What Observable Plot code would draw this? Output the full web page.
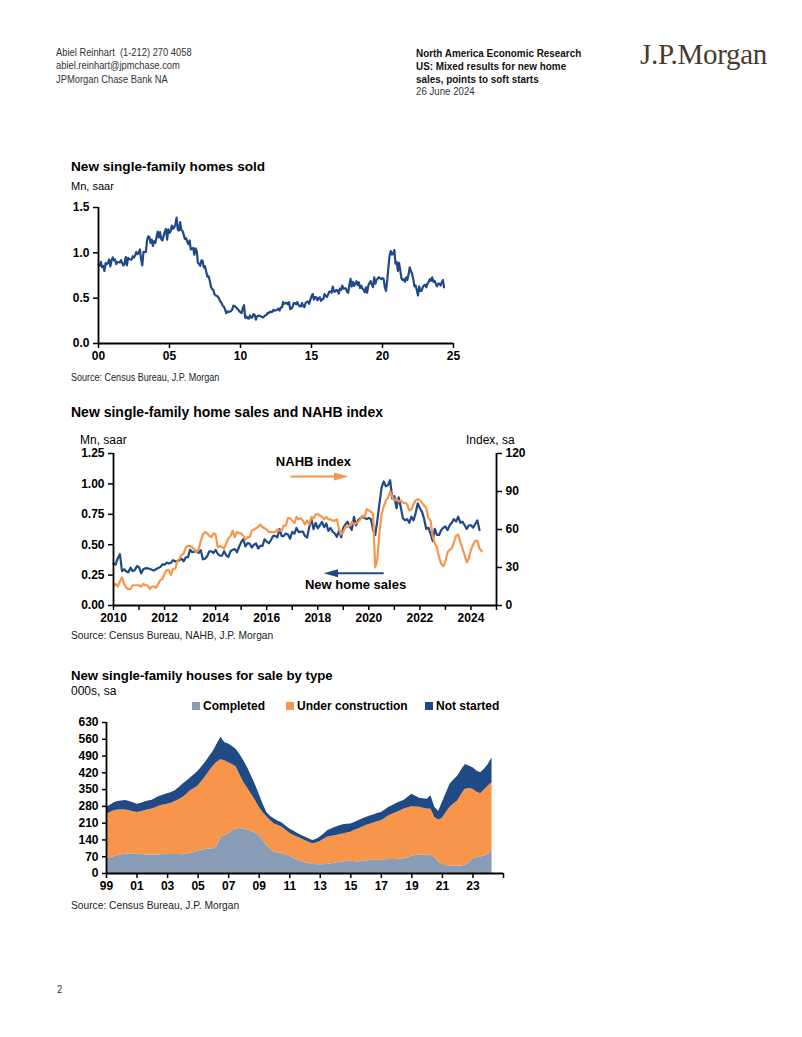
<!DOCTYPE html>
<html><head><meta charset="utf-8">
<script src="https://cdn.jsdelivr.net/npm/d3@7"></script>
<script src="https://cdn.jsdelivr.net/npm/@observablehq/plot@0.6"></script>
<style>
body{margin:0;background:#fff;}
#page{position:relative;width:802px;height:1037px;overflow:hidden;font-family:"Liberation Sans",Arial,sans-serif;color:#000;background:#fff;}
.t{position:absolute;white-space:nowrap;line-height:1;transform-origin:0 0;}
.hdr{font-size:11px;color:#333;transform:scaleX(0.85);}
.hb{font-weight:bold;color:#111;transform:scaleX(0.9);}
.title{font-weight:bold;font-size:14px;}
.unit{font-size:12px;}
.src{font-size:11px;color:#222;transform:scaleX(0.93);}
.chart{position:absolute;}
.logo{font-family:"Liberation Serif","DejaVu Serif",serif;font-size:29px;color:#4a3b2c;letter-spacing:-0.3px;}
.leg{position:absolute;font-size:12px;font-weight:bold;line-height:1;white-space:nowrap;}
.sw{display:inline-block;width:8px;height:8px;margin-right:3px;vertical-align:0px;}
</style></head><body>
<div id="page">
  <div class="t hdr" style="left:56px;top:47px;">Abiel Reinhart&nbsp; (1-212) 270 4058</div>
  <div class="t hdr" style="left:56px;top:60px;">abiel.reinhart@jpmchase.com</div>
  <div class="t hdr" style="left:56px;top:74px;">JPMorgan Chase Bank NA</div>
  <div class="t hdr hb" style="left:416px;top:48px;">North America Economic Research</div>
  <div class="t hdr hb" style="left:416px;top:61px;">US: Mixed results for new home</div>
  <div class="t hdr hb" style="left:416px;top:74px;">sales, points to soft starts</div>
  <div class="t hdr" style="left:416px;top:86px;transform:scaleX(0.88);">26 June 2024</div>
  <div class="t logo" style="left:640px;top:40px;">J.P.Morgan</div>

  <div class="t title" style="left:71px;top:160px;font-size:13.6px;">New single-family homes sold</div>
  <div class="t unit" style="left:71px;top:181px;font-size:11px;">Mn, saar</div>
  <div class="chart" id="c1" style="left:60px;top:195px;"></div>
  <div class="t src" style="left:71px;top:372px;transform:scaleX(0.82);">Source: Census Bureau, J.P. Morgan</div>

  <div class="t title" style="left:71px;top:405px;">New single-family home sales and NAHB index</div>
  <div class="t unit" style="left:80px;top:434px;">Mn, saar</div>
  <div class="t unit" style="left:466px;top:434px;">Index, sa</div>
  <div class="chart" id="c2" style="left:60px;top:440px;"></div>
  <div class="t src" style="left:71px;top:630px;">Source: Census Bureau, NAHB, J.P. Morgan</div>

  <div class="t title" style="left:71px;top:669px;font-size:13.2px;">New single-family houses for sale by type</div>
  <div class="t unit" style="left:71px;top:685px;">000s, sa</div>
  <div id="legend"></div>
  <div class="chart" id="c3" style="left:60px;top:712px;"></div>
  <div class="t src" style="left:71px;top:900px;">Source: Census Bureau, J.P. Morgan</div>

  <div class="t hdr" style="left:57px;top:984px;">2</div>
</div>
<script>
// ---------- DATA ----------
// New single-family home sales, thousands SAAR, monthly Jan 2000 - May 2024
const salesStart = 2000;
const sales = [
  873,856,900,841,857,800,887,875,889,927,850,914,   // 2000
  950,918,927,876,897,896,893,920,889,860,880,954,   // 2001
  861,944,931,928,926,963,948,974,1010,985,1000,1037, // 2002
  925,862,1012,1009,1007,1135,1182,1175,1110,1146,1076,1129, // 2003
  1109,1171,1234,1169,1228,1152,1136,1187,1232,1263,1146,1260, // 2004
  1220,1240,1301,1265,1280,1312,1389,1255,1245,1338,1250,1242, // 2005
  1200,1152,1162,1124,1095,1136,1037,1046,1054,979,1050,1019, // 2006
  891,878,856,918,910,840,852,795,738,742,695,626, // 2007
  601,592,545,529,526,514,492,462,448,416,407,373, // 2008
  334,354,347,353,356,376,418,412,402,387,375,355, // 2009
  345,336,389,422,282,298,279,274,311,283,290,324, // 2010
  315,264,299,307,305,302,294,287,299,309,316,338, // 2011
  336,352,345,351,373,362,367,373,385,364,397,398, // 2012
  458,438,443,450,432,456,380,384,403,445,445,432, // 2013
  457,426,409,410,447,412,399,446,458,464,438,481, // 2014
  521,545,485,513,510,477,500,510,469,491,490,544, // 2015
  526,512,538,572,573,560,628,573,571,592,584,549, // 2016
  605,590,638,604,608,607,572,559,645,712,628,680, // 2017
  634,661,688,644,675,613,638,607,592,564,619,560, // 2018
  638,667,689,650,622,729,660,702,717,731,719,711, // 2019
  720,710,620,580,700,840,970,1020,980,990,1030,880, // 2020
  900,800,890,810,720,700,710,680,730,700,760,840, // 2021
  800,770,710,630,640,590,530,630,580,580,620,640, // 2022
  650,620,660,680,710,690,730,680,690,660,630,660, // 2023
  660,640,670,700,620 // 2024
];
// NAHB housing market index, monthly Jan 2010 - Jun 2024
const nahbStart = 2010;
const nahb = [
  15,17,15,19,22,17,14,13,13,16,16,16, // 2010
  16,15,17,16,16,13,15,15,14,17,20,21, // 2011
  25,28,28,24,29,29,35,37,40,41,46,47, // 2012
  47,46,44,42,44,51,56,58,57,55,54,57, // 2013
  56,46,47,46,45,49,53,55,59,54,58,57, // 2014
  57,55,52,54,54,59,60,61,62,64,62,61, // 2015
  60,58,58,58,58,60,59,59,63,63,69,69, // 2016
  67,65,70,68,69,67,64,67,64,70,69,72, // 2017
  72,71,70,68,70,68,68,67,67,68,60,56, // 2018
  58,62,62,63,66,64,65,66,68,71,70,76, // 2019
  75,74,72,30,37,58,72,78,83,85,90,86, // 2020
  83,84,82,83,81,81,80,75,76,80,83,84, // 2021
  83,81,79,77,69,67,55,49,46,38,33,31, // 2022
  35,42,44,45,50,55,56,50,45,40,34,37, // 2023
  44,48,51,51,45,43 // 2024
];
// Houses for sale by type, thousands, quarterly 1999Q1 - 2024Q2
const stockStart = 1999;
const completed = [
  62,65,70,75, 78,80,82,82, 80,80,78,77, 76,77,78,79, 80,79,79,79, 78,80,84,88,
  94,98,100,102, 103,115,152,160, 165,178,186,188, 186,182,176,168, 158,138,117,100,
  90,86,83,78, 72,64,55,50, 45,42,39,37, 36,37,39,41, 44,46,48,50, 51,49,48,50,
  52,54,55,55, 55,57,58,58, 58,60,62,66, 72,75,76,76, 76,76,69,48, 39,33,30,30,
  30,31,34,45, 62,66,69,73, 78,96
];
const underConstruction = [
  186,190,192,190, 188,185,180,176, 175,178,184,189, 193,198,204,207, 209,214,221,229, 239,250,261,267,
  271,287,305,326, 345,350,323,310, 297,277,258,222, 193,173,155,137, 118,117,120,120,
  117,114,110,102, 96,96,97,95, 93,88,85,90, 98,106,113,114, 114,116,117,119, 121,131,138,143,
  148,152,156,161, 165,173,183,190, 197,202,207,208, 206,202,200,196, 193,192,165,175, 192,222,246,260,
  273,299,317,310, 289,274,264,275, 287,283
];
const notStarted = [
  28,30,33,35, 37,40,38,37, 34,34,36,37, 37,40,40,42, 44,45,45,50, 55,55,53,57,
  62,60,60,60, 62,75,93,75, 78,75,73,85, 90,85,75,65, 55,35,18,18,
  20,18,18,18, 18,17,16,15, 14,15,14,15, 18,22,27,31, 35,36,38,36, 35,33,34,34,
  34,34,33,34, 35,35,35,36, 37,37,37,44, 53,45,38,40, 41,56,42,36, 65,80,96,100,
  103,102,104,93, 90,88,87,87, 90,103
];
const stockTypes = ["Completed", "Under construction", "Not started"];
const stockColors = ["#8a9db6", "#f7964a", "#1f4a85"];

// axis ticks
const c1XTicks = [2000, 2005, 2010, 2015, 2020, 2025];
const c1XLabels = ["00", "05", "10", "15", "20", "25"];
const c1YTicks = [0, 0.5, 1.0, 1.5];
const c2XTicks = [2010,2011,2012,2013,2014,2015,2016,2017,2018,2019,2020,2021,2022,2023,2024,2025];
const c2XLabeled = [2010,2012,2014,2016,2018,2020,2022,2024];
const c2YTicks = [0, 0.25, 0.5, 0.75, 1.0, 1.25];
const c2RightTicks = [0, 30, 60, 90, 120];
const c3XTicks = [1999,2001,2003,2005,2007,2009,2011,2013,2015,2017,2019,2021,2023,2025];
const c3XLabels = ["99","01","03","05","07","09","11","13","15","17","19","21","23",""];
const c3YTicks = [0,70,140,210,280,350,420,490,560,630];

// annotations (data coordinates)
const nahbLabel = [{x: 2017.83, y: 1.178, text: "NAHB index"}];
const nahbArrow = [{x1: 2016.93, x2: 2019.2, y: 1.061}];
const salesLabel = [{x: 2019.48, y: 0.170, text: "New home sales"}];
const salesArrow = [{x1: 2020.58, x2: 2018.23, y: 0.266}];

// ---------- STYLE ----------
const NAVY = "#1f4a85";
const ORANGE = "#f7964a";
const FONT = "'Liberation Sans', Arial, sans-serif";
const baseStyle = {fontFamily: FONT, fontSize: "12px", fontWeight: "bold", color: "#000", background: "transparent", overflow: "visible"};

// ---------- CHART 1 ----------
const salesData = sales.map((v, i) => ({t: salesStart + i / 12, v: v / 1000}));
const c1 = Plot.plot({
  width: 410, height: 175,
  marginLeft: 38, marginRight: 17, marginTop: 12, marginBottom: 27,
  style: baseStyle,
  x: {domain: [2000, 2025]},
  y: {domain: [0, 1.5]},
  marks: [
    Plot.axisY({ticks: c1YTicks, tickFormat: d => d.toFixed(1), tickSize: 5, tickPadding: 4, label: null, strokeWidth: 1.5}),
    Plot.axisX({ticks: c1XTicks, tickFormat: d => c1XLabels[c1XTicks.indexOf(d)], tickSize: 5, tickPadding: 3, label: null, strokeWidth: 1.5}),
    Plot.lineY(salesData, {x: "t", y: "v", stroke: NAVY, strokeWidth: 2.2}),
    Plot.ruleX([2000], {stroke: "#000", strokeWidth: 1.8}),
    Plot.ruleY([0], {stroke: "#000", strokeWidth: 1.8})
  ]
});
document.getElementById("c1").appendChild(c1);

// ---------- CHART 2 ----------
const rightScale = 1.25 / 120;
const sales2 = salesData.filter(d => d.t >= 2010 - 1e-9);
const nahbData = nahb.map((v, i) => ({t: nahbStart + i / 12, v: v * rightScale}));
function triSymbol(dir) {
  return {draw(ctx, size) {
    const s = Math.sqrt(size / Math.PI);
    ctx.moveTo(0, 0);
    ctx.lineTo(-dir * 3.6 * s, -s);
    ctx.lineTo(-dir * 3.6 * s, s);
    ctx.closePath();
  }};
}
const c2 = Plot.plot({
  width: 475, height: 190,
  marginLeft: 53, marginRight: 39, marginTop: 13, marginBottom: 25,
  style: baseStyle,
  x: {domain: [2010, 2025]},
  y: {domain: [0, 1.25]},
  marks: [
    Plot.axisY({ticks: c2YTicks, tickFormat: d => d.toFixed(2), tickSize: 5, tickPadding: 4, label: null, strokeWidth: 1.5}),
    Plot.axisY(c2RightTicks.map(v => v * rightScale), {anchor: "right", tickFormat: d => String(Math.round(d / rightScale)), tickSize: 5, tickPadding: 4, label: null, strokeWidth: 1.5}),
    Plot.axisX({ticks: c2XTicks, tickFormat: d => c2XLabeled.includes(d) ? String(d) : "", tickSize: 5, tickPadding: 3, label: null, strokeWidth: 1.5}),
    Plot.lineY(sales2, {x: "t", y: "v", stroke: NAVY, strokeWidth: 2.2}),
    Plot.lineY(nahbData, {x: "t", y: "v", stroke: ORANGE, strokeWidth: 2.2}),
    Plot.ruleX([2010, 2025], {stroke: "#000", strokeWidth: 1.8}),
    Plot.ruleY([0], {stroke: "#000", strokeWidth: 1.8}),
    Plot.link(nahbArrow, {x1: "x1", x2: d => d.x2 - 0.45, y1: "y", y2: "y", stroke: ORANGE, strokeWidth: 2}),
    Plot.dot(nahbArrow, {x: "x2", y: "y", symbol: triSymbol(1), r: 4, fill: ORANGE, stroke: "none"}),
    Plot.link(salesArrow, {x1: "x1", x2: d => d.x2 + 0.45, y1: "y", y2: "y", stroke: NAVY, strokeWidth: 2}),
    Plot.dot(salesArrow, {x: "x2", y: "y", symbol: triSymbol(-1), r: 4, fill: NAVY, stroke: "none"}),
    Plot.text(nahbLabel, {x: "x", y: "y", text: "text", fontSize: 13, fontWeight: "bold", fill: "#000"}),
    Plot.text(salesLabel, {x: "x", y: "y", text: "text", fontSize: 13, fontWeight: "bold", fill: "#000"})
  ]
});
document.getElementById("c2").appendChild(c2);

// ---------- CHART 3 ----------
const stockSeries = [completed, underConstruction, notStarted];
const stockData = [];
stockSeries.forEach((arr, k) => arr.forEach((v, i) => stockData.push({t: stockStart + i / 4, v, type: stockTypes[k]})));
const c3 = Plot.plot({
  width: 460, height: 195,
  marginLeft: 46, marginRight: 17, marginTop: 10, marginBottom: 34,
  style: baseStyle,
  x: {domain: [1999, 2025]},
  y: {domain: [0, 630]},
  color: {domain: stockTypes, range: stockColors},
  marks: [
    Plot.areaY(stockData, {x: "t", y: "v", fill: "type", order: stockTypes, curve: "linear"}),
    Plot.axisY({ticks: c3YTicks, tickSize: 4, tickPadding: 4, label: null, strokeWidth: 1.5}),
    Plot.axisX({ticks: c3XTicks, tickFormat: d => c3XLabels[c3XTicks.indexOf(d)], tickSize: 5, tickPadding: 3, label: null, strokeWidth: 1.5}),
    Plot.ruleX([1999], {stroke: "#000", strokeWidth: 1.8}),
    Plot.ruleY([0], {stroke: "#000", strokeWidth: 1.8})
  ]
});
document.getElementById("c3").appendChild(c3);

// legend
const legendX = [192, 286, 425];
const leg = document.getElementById("legend");
stockTypes.forEach((name, k) => {
  const d = document.createElement("div");
  d.className = "leg";
  d.style.left = legendX[k] + "px";
  d.style.top = "700px";
  d.innerHTML = `<span class="sw" style="background:${stockColors[k]}"></span>${name}`;
  leg.appendChild(d);
});
</script>
</body></html>
